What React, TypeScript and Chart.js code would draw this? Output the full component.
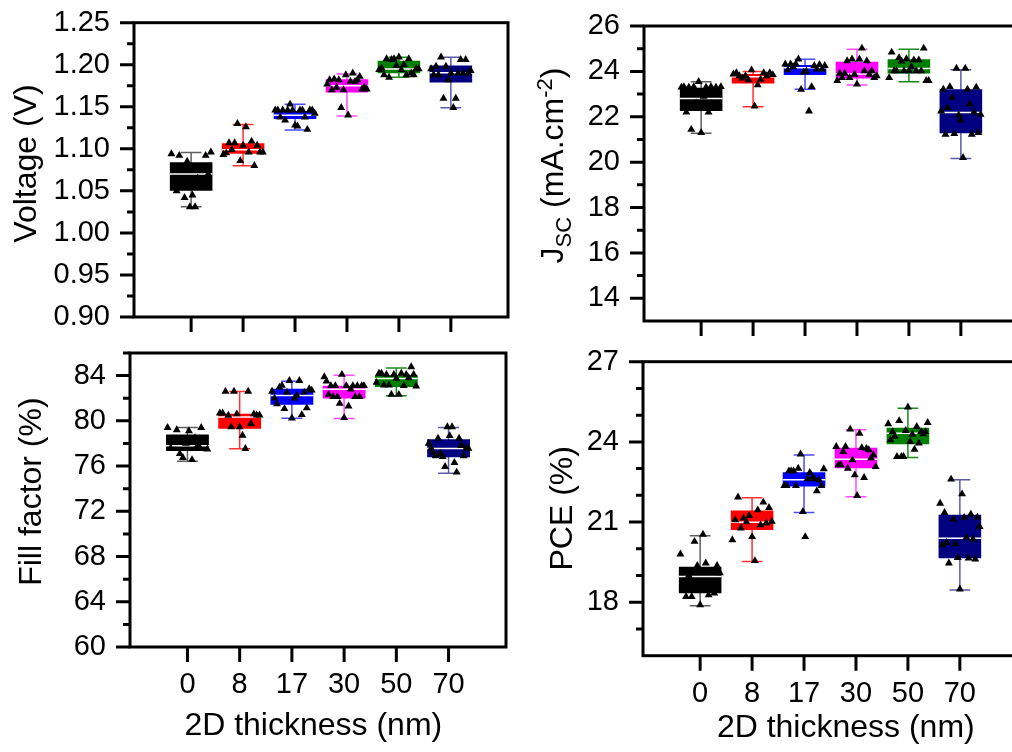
import React, { useEffect, useRef } from 'react';
import { Chart, registerables } from 'chart.js';

Chart.register(...registerables);

const FONT = "'Liberation Sans', Arial, Helvetica, sans-serif";
Chart.defaults.font.family = FONT;
Chart.defaults.color = '#000';

// ---------- shared categories / colours ----------
const X_LABELS = ['0', '8', '17', '30', '50', '70'];
const X_POS = [0, 1, 2, 3, 4, 5];
const BOX_COLORS = ['#000000', '#ff0000', '#0000ff', '#ff00ff', '#008000', '#000080'];
const WHISKER_COLORS = ['#606060', '#ff3030', '#4a4aff', '#ff4aff', '#1a8a1a', '#5a5aa8'];

// ---------- Voltage (V) ----------
const VOC_MAJOR = [0.9, 0.95, 1.0, 1.05, 1.1, 1.15, 1.2, 1.25];
const VOC_MINOR = [0.925, 0.975, 1.025, 1.075, 1.125, 1.175, 1.225];
const VOC_Q1 = [1.050, 1.094, 1.1355, 1.167, 1.190, 1.179];
const VOC_MED = [1.070, 1.099, 1.140, 1.175, 1.195, 1.1905];
const VOC_Q3 = [1.084, 1.1066, 1.145, 1.1827, 1.2048, 1.199];
const VOC_MIN = [1.031, 1.080, 1.1224, 1.139, 1.185, 1.149];
const VOC_MAX = [1.0955, 1.129, 1.153, 1.189, 1.209, 1.209];
const VOC_PTS_0 = [1.094, 1.060, 1.050, 1.092, 1.075, 1.042, 1.085, 1.031, 1.045, 1.031, 1.065, 1.078, 1.058, 1.092, 1.070, 1.096];
const VOC_PTS_1 = [1.093, 1.095, 1.107, 1.099, 1.107, 1.130, 1.086, 1.104, 1.126, 1.096, 1.109, 1.080, 1.104, 1.096, 1.096];
const VOC_PTS_2 = [1.146, 1.146, 1.1375, 1.146, 1.134, 1.146, 1.153, 1.146, 1.128, 1.127, 1.146, 1.146, 1.1375, 1.123, 1.146, 1.146, 1.142];
const VOC_PTS_3 = [1.177, 1.182, 1.170, 1.183, 1.173, 1.182, 1.149, 1.170, 1.188, 1.140, 1.180, 1.190, 1.180, 1.182, 1.186, 1.171, 1.173, 1.171];
const VOC_PTS_4 = [1.194, 1.196, 1.188, 1.207, 1.185, 1.206, 1.207, 1.199, 1.209, 1.194, 1.200, 1.188, 1.207, 1.190, 1.188, 1.195, 1.195];
const VOC_PTS_5 = [1.195, 1.188, 1.198, 1.188, 1.209, 1.160, 1.198, 1.182, 1.190, 1.149, 1.160, 1.190, 1.206, 1.190, 1.206, 1.190, 1.193];

// ---------- Jsc (mA cm-2) ----------
const JSC_MAJOR = [14, 16, 18, 20, 22, 24, 26];
const JSC_MINOR = [15, 17, 19, 21, 23, 25];
const JSC_Q1 = [22.25, 23.47, 23.84, 23.69, 23.91, 21.27];
const JSC_MED = [22.81, 23.76, 24.16, 23.88, 24.13, 22.19];
const JSC_Q3 = [23.28, 23.88, 24.28, 24.43, 24.53, 23.21];
const JSC_MIN = [21.27, 22.44, 23.21, 23.40, 23.54, 20.16];
const JSC_MAX = [23.54, 24.0, 24.53, 24.97, 24.97, 24.07];
const JSC_PTS_0 = [23.3, 23.32, 22.2, 23.3, 21.44, 23.32, 22.6, 23.55, 21.3, 22.9, 23.3, 22.2, 23.32, 22.5, 23.3, 23.0, 23.32];
const JSC_PTS_1 = [23.88, 23.94, 23.8, 23.7, 23.8, 23.62, 24.06, 22.47, 23.4, 23.65, 23.94, 23.8, 23.94, 23.85];
const JSC_PTS_2 = [24.32, 24.06, 24.32, 24.2, 24.32, 24.54, 23.2, 23.96, 24.0, 22.25, 23.32, 24.25, 24.1, 24.3, 24.1, 24.25];
const JSC_PTS_3 = [23.59, 23.91, 23.72, 23.91, 24.46, 23.72, 24.54, 23.87, 23.43, 24.54, 25.02, 24.02, 24.46, 23.87, 24.02, 23.72, 23.8];
const JSC_PTS_4 = [23.72, 24.84, 24.02, 24.02, 24.6, 24.45, 24.02, 24.55, 24.02, 24.2, 24.5, 24.02, 24.5, 24.02, 25.02, 23.59, 23.59];
const JSC_PTS_5 = [22.25, 23.21, 21.22, 22.4, 23.32, 22.85, 21.25, 24.13, 22.07, 21.85, 20.2, 24.13, 23.21, 22.55, 21.22, 22.2, 23.3, 21.3, 22.1];

// ---------- Fill factor (%) ----------
const FF_MAJOR = [60, 64, 68, 72, 76, 80, 84];
const FF_MINOR = [62, 66, 70, 74, 78, 82, 86];
const FF_Q1 = [77.33, 79.30, 81.42, 81.98, 83.0, 76.77];
const FF_MED = [77.8, 80.33, 82.24, 82.8, 83.74, 77.56];
const FF_Q3 = [78.80, 80.63, 82.83, 83.10, 84.03, 78.38];
const FF_MIN = [76.42, 77.54, 80.24, 80.21, 82.21, 75.36];
const FF_MAX = [79.42, 82.6, 83.5, 84.03, 84.68, 79.42];
const FF_PTS_0 = [79.4, 77.6, 78.2, 79.2, 77.1, 76.74, 78.0, 79.1, 76.56, 78.5, 77.9, 79.4, 78.3, 77.5];
const FF_PTS_1 = [80.68, 80.68, 82.6, 80.48, 79.45, 82.6, 80.6, 79.45, 78.71, 77.54, 82.6, 79.75, 80.6, 80.5, 80.5];
const FF_PTS_2 = [82.6, 82.0, 81.5, 82.97, 83.12, 81.07, 82.53, 83.56, 80.24, 82.0, 82.24, 83.56, 80.54, 82.53, 81.13, 82.83, 82.7];
const FF_PTS_3 = [83.89, 83.5, 82.33, 83.1, 82.13, 83.1, 82.13, 81.53, 84.1, 80.27, 83.1, 81.3, 82.8, 83.1, 82.13, 83.1, 82.13, 83.1, 83.1];
const FF_PTS_4 = [83.39, 84.2, 84.2, 83.15, 84.1, 83.15, 82.33, 84.1, 83.74, 82.33, 84.2, 83.1, 84.1, 83.8, 84.77, 84.1, 83.07];
const FF_PTS_5 = [78.0, 77.56, 77.2, 76.9, 78.45, 77.1, 76.83, 75.95, 79.47, 78.68, 79.47, 76.3, 75.45, 78.45, 77.8, 76.9, 77.56, 77.56];

// ---------- PCE (%) ----------
const PCE_MAJOR = [18, 21, 24, 27];
const PCE_MINOR = [17, 19, 20, 22, 23, 25, 26];
const PCE_Q1 = [18.34, 20.70, 22.33, 23.01, 23.91, 19.65];
const PCE_MED = [18.96, 20.99, 22.58, 23.35, 24.32, 20.39];
const PCE_Q3 = [19.33, 21.43, 22.86, 23.78, 24.53, 21.27];
const PCE_MIN = [17.87, 19.52, 21.36, 21.95, 23.42, 18.46];
const PCE_MAX = [20.49, 21.91, 23.51, 24.45, 25.26, 22.58];
const PCE_PTS_0 = [19.8, 18.7, 18.21, 19.0, 18.21, 20.27, 19.37, 17.9, 20.54, 19.46, 18.27, 18.6, 18.34, 19.37, 19.1];
const PCE_PTS_1 = [20.33, 21.08, 21.93, 20.77, 21.14, 21.0, 21.24, 20.45, 19.55, 21.45, 20.89, 21.74, 20.96, 21.54, 21.02];
const PCE_PTS_2 = [22.36, 22.36, 22.91, 22.91, 22.91, 22.36, 23.01, 23.54, 21.39, 20.45, 22.61, 22.85, 22.67, 22.61, 22.16, 22.58, 22.36, 22.99];
const PCE_PTS_3 = [23.82, 23.14, 23.14, 23.63, 23.82, 23.01, 24.47, 23.32, 22.76, 21.99, 24.32, 23.78, 22.66, 23.75, 23.7, 23.39, 23.51, 23.07];
const PCE_PTS_4 = [24.67, 24.07, 24.38, 24.2, 23.45, 24.79, 23.45, 23.45, 24.42, 25.3, 24.01, 24.28, 23.72, 24.57, 23.95, 24.38, 24.3, 24.38, 24.72];
const PCE_PTS_5 = [21.7, 20.14, 21.35, 20.23, 19.46, 22.6, 21.1, 20.18, 19.67, 18.49, 22.05, 21.17, 20.42, 19.65, 21.29, 20.36, 19.61, 21.18, 20.83];

// ---------- layout ----------
type Part = { t: string; size: number; dy: number };
interface PanelDef {
  left: number; top: number; width: number; height: number;
  yAxisWidth: number; xAxisHeight: number; padTop: number; padRight: number;
  yMin: number; yMax: number; yMajor: number[]; yMinor: number[]; decimals: number;
  showXLabels: boolean;
  q1: number[]; med: number[]; q3: number[]; lo: number[]; hi: number[]; pts: number[][];
  yTitle: { parts: Part[]; bx: number; cy: number };
  xTitle?: { parts: Part[]; cx: number; by: number };
}

const TITLE = 32;
const TICK_FONT = 29;
const X_TITLE: Part[] = [{ t: '2D thickness (nm)', size: TITLE, dy: 0 }];

const PANELS: PanelDef[] = [
  {
    left: 0, top: 0, width: 520, height: 345,
    yAxisWidth: 134, xAxisHeight: 28, padTop: 22.7, padRight: 12,
    yMin: 0.9, yMax: 1.25, yMajor: VOC_MAJOR, yMinor: VOC_MINOR, decimals: 2, showXLabels: false,
    q1: VOC_Q1, med: VOC_MED, q3: VOC_Q3, lo: VOC_MIN, hi: VOC_MAX,
    pts: [VOC_PTS_0, VOC_PTS_1, VOC_PTS_2, VOC_PTS_3, VOC_PTS_4, VOC_PTS_5],
    yTitle: { parts: [{ t: 'Voltage (V)', size: TITLE, dy: 0 }], bx: 35.5, cy: 163.5 },
  },
  {
    left: 500, top: 0, width: 530, height: 345,
    yAxisWidth: 144, xAxisHeight: 24, padTop: 26, padRight: 12,
    yMin: 13, yMax: 26, yMajor: JSC_MAJOR, yMinor: JSC_MINOR, decimals: 0, showXLabels: false,
    q1: JSC_Q1, med: JSC_MED, q3: JSC_Q3, lo: JSC_MIN, hi: JSC_MAX,
    pts: [JSC_PTS_0, JSC_PTS_1, JSC_PTS_2, JSC_PTS_3, JSC_PTS_4, JSC_PTS_5],
    yTitle: {
      parts: [
        { t: 'J', size: TITLE, dy: 0 },
        { t: 'SC', size: 22, dy: 8 },
        { t: ' (mA.cm', size: TITLE, dy: 0 },
        { t: '-2', size: 22, dy: -11 },
        { t: ')', size: TITLE, dy: 0 },
      ],
      bx: 563, cy: 165.5,
    },
  },
  {
    left: 0, top: 340, width: 520, height: 412,
    yAxisWidth: 130, xAxisHeight: 105, padTop: 13, padRight: 14,
    yMin: 60, yMax: 86, yMajor: FF_MAJOR, yMinor: FF_MINOR, decimals: 0, showXLabels: true,
    q1: FF_Q1, med: FF_MED, q3: FF_Q3, lo: FF_MIN, hi: FF_MAX,
    pts: [FF_PTS_0, FF_PTS_1, FF_PTS_2, FF_PTS_3, FF_PTS_4, FF_PTS_5],
    yTitle: { parts: [{ t: 'Fill factor (%)', size: TITLE, dy: 0 }], bx: 41, cy: 491.6 },
    xTitle: { parts: X_TITLE, cx: 313.3, by: 735 },
  },
  {
    left: 500, top: 340, width: 530, height: 412,
    yAxisWidth: 143, xAxisHeight: 96.3, padTop: 21.7, padRight: 13,
    yMin: 16, yMax: 27, yMajor: PCE_MAJOR, yMinor: PCE_MINOR, decimals: 0, showXLabels: true,
    q1: PCE_Q1, med: PCE_MED, q3: PCE_Q3, lo: PCE_MIN, hi: PCE_MAX,
    pts: [PCE_PTS_0, PCE_PTS_1, PCE_PTS_2, PCE_PTS_3, PCE_PTS_4, PCE_PTS_5],
    yTitle: { parts: [{ t: 'PCE (%)', size: TITLE, dy: 0 }], bx: 572, cy: 508.3 },
    xTitle: { parts: X_TITLE, cx: 845.8, by: 736.6 },
  },
];

const CAP_HALF = 0.2;
const BOX_HALF = 0.41;
const JITTER = 0.38;

function drawParts(ctx: CanvasRenderingContext2D, parts: Part[]) {
  let total = 0;
  const widths = parts.map((p) => {
    ctx.font = `${p.size}px ${FONT}`;
    const w = ctx.measureText(p.t).width;
    total += w;
    return w;
  });
  let x = -total / 2;
  ctx.textAlign = 'left';
  ctx.textBaseline = 'alphabetic';
  parts.forEach((p, i) => {
    ctx.font = `${p.size}px ${FONT}`;
    ctx.fillText(p.t, x, p.dy);
    x += widths[i];
  });
}

function makeDecor(def: PanelDef) {
  return {
    id: 'panelDecor',
    afterDraw(chart: any) {
      const { ctx, chartArea } = chart;
      const { left, top, right, bottom } = chartArea;
      const xs = chart.scales.x;
      const ys = chart.scales.y;
      ctx.save();
      ctx.strokeStyle = '#000';
      ctx.lineWidth = 3;
      ctx.lineCap = 'butt';
      ctx.beginPath();
      def.yMajor.forEach((v) => {
        const p = ys.getPixelForValue(v);
        ctx.moveTo(left - 14, p);
        ctx.lineTo(left, p);
      });
      def.yMinor.forEach((v) => {
        const p = ys.getPixelForValue(v);
        ctx.moveTo(left - 7, p);
        ctx.lineTo(left, p);
      });
      X_POS.forEach((v) => {
        const p = xs.getPixelForValue(v);
        ctx.moveTo(p, bottom);
        ctx.lineTo(p, bottom + 15);
      });
      ctx.stroke();
      ctx.strokeRect(left, top, right - left, bottom - top);

      ctx.fillStyle = '#000';
      const yt = def.yTitle;
      ctx.save();
      ctx.translate(yt.bx - def.left, yt.cy - def.top);
      ctx.rotate(-Math.PI / 2);
      drawParts(ctx, yt.parts);
      ctx.restore();
      if (def.xTitle) {
        const xt = def.xTitle;
        ctx.save();
        ctx.translate(xt.cx - def.left, xt.by - def.top);
        drawParts(ctx, xt.parts);
        ctx.restore();
      }
      ctx.restore();
    },
  };
}

function buildConfig(def: PanelDef): any {
  const datasets: any[] = [];
  X_POS.forEach((x, i) => {
    datasets.push({
      type: 'line',
      data: [
        { x: x - CAP_HALF, y: def.hi[i] }, { x: x + CAP_HALF, y: def.hi[i] }, { x, y: null },
        { x, y: def.hi[i] }, { x, y: def.lo[i] }, { x, y: null },
        { x: x - CAP_HALF, y: def.lo[i] }, { x: x + CAP_HALF, y: def.lo[i] },
      ],
      borderColor: WHISKER_COLORS[i],
      borderWidth: 1.5,
      pointRadius: 0,
      spanGaps: false,
      order: 4,
    });
  });
  datasets.push({
    type: 'bar',
    data: X_POS.map((x, i) => ({ x, y: [def.q1[i], def.q3[i]] })),
    backgroundColor: BOX_COLORS,
    borderWidth: 0,
    barPercentage: 0.82,
    categoryPercentage: 1,
    order: 3,
  });
  X_POS.forEach((x, i) => {
    datasets.push({
      type: 'line',
      data: [{ x: x - BOX_HALF, y: def.med[i] }, { x: x + BOX_HALF, y: def.med[i] }],
      borderColor: '#ffffff',
      borderWidth: 1.5,
      pointRadius: 0,
      order: 2,
    });
  });
  datasets.push({
    type: 'scatter',
    data: def.pts.flatMap((arr, i) =>
      arr.map((v, k) => ({ x: X_POS[i] + JITTER * ((2 * k) / (arr.length - 1) - 1), y: v }))
    ),
    pointStyle: 'triangle',
    pointRadius: 4.6,
    backgroundColor: '#000',
    borderColor: '#000',
    borderWidth: 0,
    order: 1,
  });

  return {
    type: 'bar',
    data: { datasets },
    options: {
      animation: false,
      responsive: false,
      events: [],
      layout: { padding: { top: def.padTop, right: def.padRight, left: 0, bottom: 0 } },
      plugins: { legend: { display: false }, tooltip: { enabled: false } },
      scales: {
        x: {
          type: 'linear',
          min: -0.5,
          max: 5.5,
          afterBuildTicks: (s: any) => { s.ticks = X_POS.map((value) => ({ value })); },
          afterFit: (s: any) => { s.height = def.xAxisHeight; s.paddingLeft = 0; s.paddingRight = 0; },
          grid: { display: false, drawTicks: false },
          border: { display: false },
          ticks: {
            display: def.showXLabels,
            padding: 20.5,
            maxRotation: 0,
            autoSkip: false,
            color: '#000',
            font: { size: TICK_FONT, family: FONT },
            callback: (v: number) => X_LABELS[X_POS.indexOf(v)] ?? '',
          },
        },
        y: {
          type: 'linear',
          min: def.yMin,
          max: def.yMax,
          afterBuildTicks: (s: any) => { s.ticks = def.yMajor.map((value) => ({ value })); },
          afterFit: (s: any) => { s.width = def.yAxisWidth; s.paddingTop = 0; s.paddingBottom = 0; },
          grid: { display: false, drawTicks: false },
          border: { display: false },
          ticks: {
            padding: 24,
            autoSkip: false,
            color: '#000',
            font: { size: TICK_FONT, family: FONT },
            callback: (v: number) => Number(v).toFixed(def.decimals),
          },
        },
      },
    },
    plugins: [makeDecor(def)],
  };
}

function Panel({ def }: { def: PanelDef }) {
  const ref = useRef<HTMLCanvasElement>(null);
  useEffect(() => {
    if (!ref.current) return;
    const chart = new Chart(ref.current, buildConfig(def));
    return () => chart.destroy();
  }, [def]);
  return (
    <canvas
      ref={ref}
      width={def.width}
      height={def.height}
      style={{ position: 'absolute', left: def.left, top: def.top, width: def.width, height: def.height }}
    />
  );
}

export default function App() {
  return (
    <div
      style={{
        position: 'fixed', left: 0, top: 0, width: 1012, height: 752,
        overflow: 'hidden', background: '#ffffff',
      }}
    >
      {PANELS.map((def, i) => (
        <Panel key={i} def={def} />
      ))}
    </div>
  );
}
